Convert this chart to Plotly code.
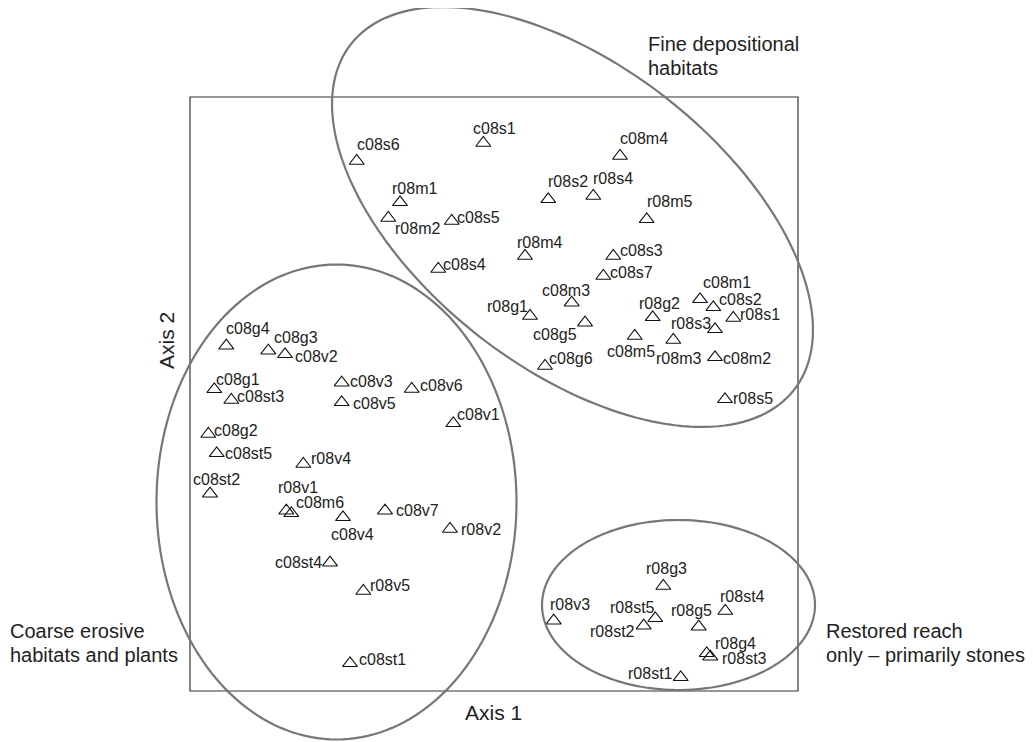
import numpy as np
import plotly.graph_objects as go

# ---- data: sample scores on ordination axes (arbitrary units)
samples = ["c08s6", "c08s1", "r08m1", "r08m2", "c08s5", "c08s4", "c08m4", "r08s2", "r08s4", "r08m5",
           "r08m4", "c08s3", "c08s7", "c08m3", "r08g1", "c08g5", "r08g2", "c08m5", "r08m3", "c08m1",
           "c08s2", "r08s1", "r08s3", "c08m2", "r08s5", "c08g6",
           "c08g4", "c08g3", "c08v2", "c08g1", "c08st3", "c08v3", "c08v5", "c08v6", "c08v1", "c08g2",
           "c08st5", "r08v4", "c08st2", "r08v1", "c08m6", "c08v4", "c08v7", "r08v2", "c08st4", "r08v5",
           "c08st1",
           "r08g3", "r08v3", "r08st5", "r08st2", "r08g5", "r08st4", "r08g4", "r08st3", "r08st1"]
axis1 = [166.7, 293.3, 210.0, 198.3, 261.7, 248.3, 430.0, 358.3, 403.3, 456.7,
         335.0, 423.3, 413.3, 381.7, 340.0, 395.0, 462.7, 444.7, 483.3, 510.0,
         523.3, 543.3, 525.0, 525.0, 535.0, 355.0,
         36.3, 78.3, 95.0, 24.3, 41.3, 151.7, 151.7, 221.7, 263.3, 18.3,
         26.7, 113.3, 20.0, 96.3, 101.3, 153.0, 195.0, 260.0, 140.0, 173.3,
         160.0,
         473.3, 363.7, 465.3, 453.7, 508.7, 535.3, 516.7, 520.3, 490.7]
axis2 = [530.0, 548.0, 488.7, 473.0, 470.0, 422.0, 535.0, 491.7, 495.0, 471.7,
         435.0, 435.0, 415.0, 388.3, 375.0, 368.3, 373.7, 355.0, 351.0, 391.7,
         383.7, 373.0, 361.7, 333.7, 291.7, 325.0,
         345.3, 340.3, 336.7, 301.7, 291.0, 308.3, 288.7, 302.0, 267.7, 257.0,
         237.7, 227.0, 197.3, 180.3, 177.7, 173.7, 180.3, 162.0, 128.3, 100.0,
         27.7,
         105.0, 70.3, 72.7, 65.3, 64.3, 80.0, 37.7, 34.3, 13.7]

group_labels = ["Fine depositional|habitats", "Coarse erosive|habitats and plants",
                "Restored reach|only \u2013 primarily stones"]

# ---- label placement (anchor, dx px, dy px up) -- layout only
label_pos = [("left", 0, 17), ("left", -10, 15), ("left", -8, 14), ("left", 7, -10), ("left", 5, 3.5),
             ("left", 5, 5), ("left", 0, 18), ("left", 0, 18), ("left", 0, 18), ("left", 0, 18),
             ("left", -8, 14), ("left", 7, 6), ("left", 7, 3.5), ("left", -30, 12.7), ("right", -2, 10),
             ("right", -8, -11.3), ("left", -14, 13.6), ("left", -28, -15.7), ("left", -17, -18.3),
             ("left", 3, 17.3), ("left", 6, 8), ("left", 7, 3.5), ("right", -4, 6.3), ("left", 8, -0.7),
             ("left", 8, 1.3), ("left", 4, 8),
             ("left", 0, 17.7), ("left", 6, 13.7), ("left", 10, -2.4), ("left", 2, 9.8), ("left", 6, 4),
             ("left", 8, 1.7), ("left", 11, -1), ("left", 8, 4), ("left", 4, 8.6), ("left", 6, 4),
             ("left", 8, -0.5), ("left", 8, 5.2), ("left", -17, 14), ("left", -8, 23.2), ("left", 5, 11.3),
             ("left", -12, -17.4), ("left", 11, 0), ("left", 11, 0), ("right", -8, 0), ("left", 7, 5.5),
             ("left", 9, 4),
             ("left", -17, 18), ("left", -4, 16), ("right", 0, 11), ("right", -9, -6), ("left", -28, 16),
             ("left", -5, 14.3), ("left", 8, 10.3), ("left", 12, -2), ("right", -8, 3.6)]

FONT = "Liberation Sans, Arial, sans-serif"
TXT = "#222222"

fig = go.Figure()
fig.add_trace(go.Scatter(
    x=axis1, y=axis2, mode="markers", text=samples, hoverinfo="text",
    marker=dict(symbol="triangle-up-open", size=13, color="#111111", line=dict(width=1.1, color="#111111")),
    showlegend=False, cliponaxis=False))

ann = []
for name, x, y, (anc, dx, dy) in zip(samples, axis1, axis2, label_pos):
    ann.append(dict(x=x, y=y, xref="x", yref="y", text=name, showarrow=False,
                    xanchor=anc, yanchor="middle", xshift=dx, yshift=dy,
                    borderpad=0, borderwidth=0,
                    font=dict(family=FONT, size=16, color=TXT)))

# group captions (one annotation per line)
cap_places = [(458, [646.7, 623.0]), (-180, [60.0, 36.5]), (636, [60.0, 36.5])]
for txt, (cx, ys) in zip(group_labels, cap_places):
    for line, yy in zip(txt.split("|"), ys):
        ann.append(dict(x=cx, y=yy, xref="x", yref="y", text=line, showarrow=False,
                        xanchor="left", yanchor="middle", borderpad=0, borderwidth=0,
                        font=dict(family=FONT, size=20, color=TXT)))

ann.append(dict(x=303.5, y=-21.5, xref="x", yref="y", text="Axis 1", showarrow=False,
                xanchor="center", yanchor="middle", font=dict(family=FONT, size=21, color=TXT)))
ann.append(dict(x=-24, y=350, xref="x", yref="y", text="Axis 2", showarrow=False, textangle=-90,
                xanchor="center", yanchor="middle", font=dict(family=FONT, size=21, color=TXT)))


def ellipse_path(cx, cy, a, b, ang_deg, n=180):
    t = np.linspace(0, 2 * np.pi, n, endpoint=False)
    th = np.deg2rad(ang_deg)
    xs = cx + a * np.cos(t) * np.cos(th) - b * np.sin(t) * np.sin(th)
    ys = cy + a * np.cos(t) * np.sin(th) + b * np.sin(t) * np.cos(th)
    return "M " + " L ".join(f"{u:.2f},{v:.2f}" for u, v in zip(xs, ys)) + " Z"


shapes = [
    dict(type="rect", xref="x", yref="y", x0=0, x1=608, y0=0, y1=594,
         line=dict(color="#333333", width=1.2), fillcolor="rgba(0,0,0,0)", layer="below"),
    dict(type="path", xref="x", yref="y", path=ellipse_path(382.5, 474, 281, 151.5, -37.9),
         line=dict(color="#777777", width=2.2)),
    dict(type="path", xref="x", yref="y", path=ellipse_path(146.5, 189, 180, 237.5, 0),
         line=dict(color="#777777", width=2.2)),
    dict(type="path", xref="x", yref="y", path=ellipse_path(488.5, 86, 136.5, 85, 0),
         line=dict(color="#777777", width=2.2)),
]

# the page body has an 8px margin, so the figure is 8px smaller and its range starts 8 units in
fig.update_layout(
    width=1025, height=734, margin=dict(l=0, r=0, t=0, b=0),
    paper_bgcolor="white", plot_bgcolor="white",
    xaxis=dict(range=[-182, 843], visible=False, fixedrange=True),
    yaxis=dict(range=[-51, 683], visible=False, fixedrange=True),
    annotations=ann, shapes=shapes, showlegend=False)

fig.write_html("out.html")
